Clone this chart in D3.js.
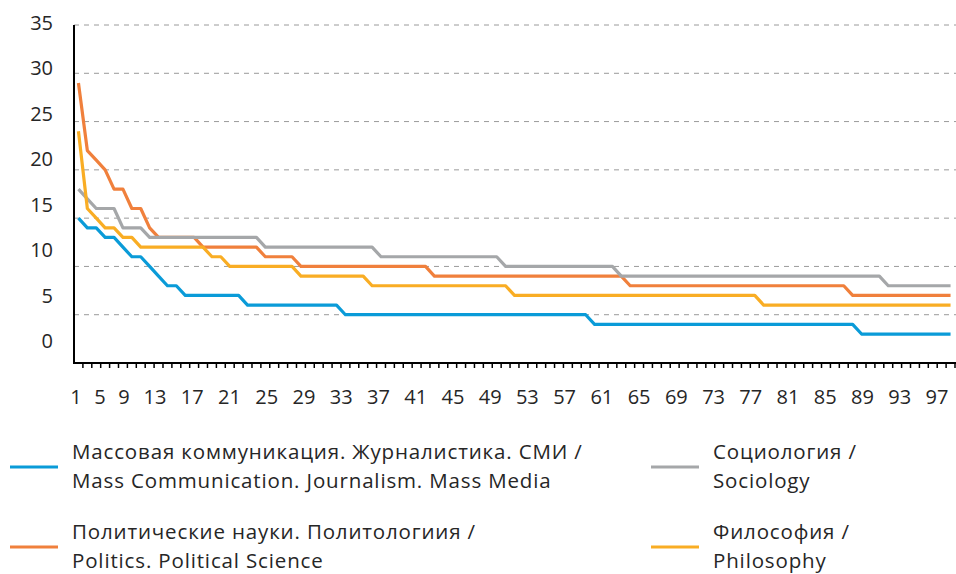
<!DOCTYPE html>
<html>
<head>
<meta charset="utf-8">
<script src="https://cdn.jsdelivr.net/npm/d3@7"></script>
<style>
  body { margin: 0; background: #fff; }
  text { font-family: "Open Sans", sans-serif; fill: #262626; }
</style>
</head>
<body>
<div id="chart"></div>
<script>
// ranks 1..99 on the x axis
let ranks = d3.range(1, 100);
let xTickLabels = [1, 5, 9, 13, 17, 21, 25, 29, 33, 37, 41, 45, 49, 53, 57, 61, 65, 69, 73, 77, 81, 85, 89, 93, 97];
let yTickLabels = [0, 5, 10, 15, 20, 25, 30, 35];

let massMedia = [15, 14, 14, 13, 13, 12, 11, 11, 10, 9, 8, 8,
    7, 7, 7, 7, 7, 7, 7,
    6, 6, 6, 6, 6, 6, 6, 6, 6, 6, 6,
    5, 5, 5, 5, 5, 5, 5, 5, 5, 5, 5, 5, 5, 5, 5, 5, 5, 5, 5, 5, 5, 5, 5, 5, 5, 5, 5, 5,
    4, 4, 4, 4, 4, 4, 4, 4, 4, 4, 4, 4, 4, 4, 4, 4, 4, 4, 4, 4, 4, 4, 4, 4, 4, 4, 4, 4, 4, 4,
    3, 3, 3, 3, 3, 3, 3, 3, 3, 3, 3];

let politics = [29, 22, 21, 20, 18, 18, 16, 16, 14,
    13, 13, 13, 13, 13,
    12, 12, 12, 12, 12, 12, 12,
    11, 11, 11, 11,
    10, 10, 10, 10, 10, 10, 10, 10, 10, 10, 10, 10, 10, 10, 10,
    9, 9, 9, 9, 9, 9, 9, 9, 9, 9, 9, 9, 9, 9, 9, 9, 9, 9, 9, 9, 9, 9,
    8, 8, 8, 8, 8, 8, 8, 8, 8, 8, 8, 8, 8, 8, 8, 8, 8, 8, 8, 8, 8, 8, 8, 8, 8,
    7, 7, 7, 7, 7, 7, 7, 7, 7, 7, 7, 7];

let sociology = [18, 17, 16, 16, 16, 14, 14, 14,
    13, 13, 13, 13, 13, 13, 13, 13, 13, 13, 13, 13, 13,
    12, 12, 12, 12, 12, 12, 12, 12, 12, 12, 12, 12, 12,
    11, 11, 11, 11, 11, 11, 11, 11, 11, 11, 11, 11, 11, 11,
    10, 10, 10, 10, 10, 10, 10, 10, 10, 10, 10, 10, 10,
    9, 9, 9, 9, 9, 9, 9, 9, 9, 9, 9, 9, 9, 9, 9, 9, 9, 9, 9, 9, 9, 9, 9, 9, 9, 9, 9, 9, 9, 9,
    8, 8, 8, 8, 8, 8, 8, 8];

let philosophy = [24, 16, 15, 14, 14, 13, 13,
    12, 12, 12, 12, 12, 12, 12, 12,
    11, 11,
    10, 10, 10, 10, 10, 10, 10, 10,
    9, 9, 9, 9, 9, 9, 9, 9,
    8, 8, 8, 8, 8, 8, 8, 8, 8, 8, 8, 8, 8, 8, 8, 8,
    7, 7, 7, 7, 7, 7, 7, 7, 7, 7, 7, 7, 7, 7, 7, 7, 7, 7, 7, 7, 7, 7, 7, 7, 7, 7, 7, 7,
    6, 6, 6, 6, 6, 6, 6, 6, 6, 6, 6, 6, 6, 6, 6, 6, 6, 6, 6, 6, 6, 6];

let seriesNames = [
    ["Массовая коммуникация. Журналистика. СМИ /", "Mass Communication. Journalism. Mass Media"],
    ["Политические науки. Политологиия /", "Politics. Political Science"],
    ["Социология /", "Sociology"],
    ["Философия /", "Philosophy"]
];
let seriesValues = [massMedia, politics, sociology, philosophy];
let seriesColors = ["#0a9bd8", "#f0803c", "#a5a7a9", "#f9ad24"];

let width = 956, height = 574;

let svg = d3.select("#chart")
    .append("svg")
    .attr("width", width)
    .attr("height", height);

// category scale, points sit in the middle of each band
let x = d3.scaleBand()
    .domain(ranks)
    .range([74, 955])
    .paddingInner(0)
    .paddingOuter(0);

let y = d3.scaleLinear()
    .domain([0, 35])
    .range([363, 25]);

// the tick labels in the source sit a bit off the grid, keep that
let yLabel = d3.scaleLinear().domain([0, 35]).range([341, 23]);
let xLabel = d3.scaleLinear().domain([1, 9, 13, 97]).range([76, 124, 155, 937]);

// dashed gridlines
svg.append("g")
    .selectAll("line")
    .data(yTickLabels.filter(d => d > 0))
    .join("line")
    .attr("x1", 74)
    .attr("x2", width)
    .attr("y1", d => y(d))
    .attr("y2", d => y(d))
    .attr("stroke", "#9a9a9a")
    .attr("stroke-width", 1)
    .attr("stroke-dasharray", "5,5");

// y labels
svg.append("g")
    .selectAll("text")
    .data(yTickLabels)
    .join("text")
    .attr("x", 53)
    .attr("y", d => yLabel(d))
    .attr("dy", "0.35em")
    .attr("text-anchor", "end")
    .attr("font-size", "20px")
    .text(d => d);

// lines
let line = d3.line()
    .x((d, i) => x(ranks[i]) + x.bandwidth() / 2)
    .y(d => y(d));

svg.append("g")
    .selectAll("path")
    .data(seriesValues)
    .join("path")
    .attr("d", d => line(d))
    .attr("fill", "none")
    .attr("stroke", (d, i) => seriesColors[i])
    .attr("stroke-width", 3.2)
    .attr("stroke-linejoin", "round");

// axes lines
svg.append("line")
    .attr("x1", 74).attr("x2", 74)
    .attr("y1", 25).attr("y2", 364)
    .attr("stroke", "#000")
    .attr("stroke-width", 2);

svg.append("line")
    .attr("x1", 73).attr("x2", width)
    .attr("y1", 363).attr("y2", 363)
    .attr("stroke", "#000")
    .attr("stroke-width", 2);

// small ticks between categories
svg.append("g")
    .selectAll("line")
    .data(ranks)
    .join("line")
    .attr("x1", d => x(d) + x.bandwidth())
    .attr("x2", d => x(d) + x.bandwidth())
    .attr("y1", 363)
    .attr("y2", 368)
    .attr("stroke", "#000")
    .attr("stroke-width", 1.5);

// x labels
svg.append("g")
    .selectAll("text")
    .data(xTickLabels)
    .join("text")
    .attr("x", d => xLabel(d))
    .attr("y", 397)
    .attr("dy", "0.35em")
    .attr("text-anchor", "middle")
    .attr("font-size", "20px")
    .text(d => d);

// legend, two columns
let legendPos = [[10, 467], [10, 547], [651, 467], [651, 547]];

let legend = svg.append("g")
    .selectAll("g")
    .data(seriesNames)
    .join("g")
    .attr("transform", (d, i) => `translate(${legendPos[i][0]},${legendPos[i][1]})`);

legend.append("line")
    .attr("x1", 0)
    .attr("x2", 48)
    .attr("y1", 0)
    .attr("y2", 0)
    .attr("stroke", (d, i) => seriesColors[i])
    .attr("stroke-width", 3);

legend.selectAll("text")
    .data(d => d)
    .join("text")
    .attr("x", 62)
    .attr("y", (d, i) => i === 0 ? -15 : 14)
    .attr("dy", "0.35em")
    .attr("font-size", "20.5px")
    .attr("letter-spacing", "0.85px")
    .text(d => d);
</script>
</body>
</html>
